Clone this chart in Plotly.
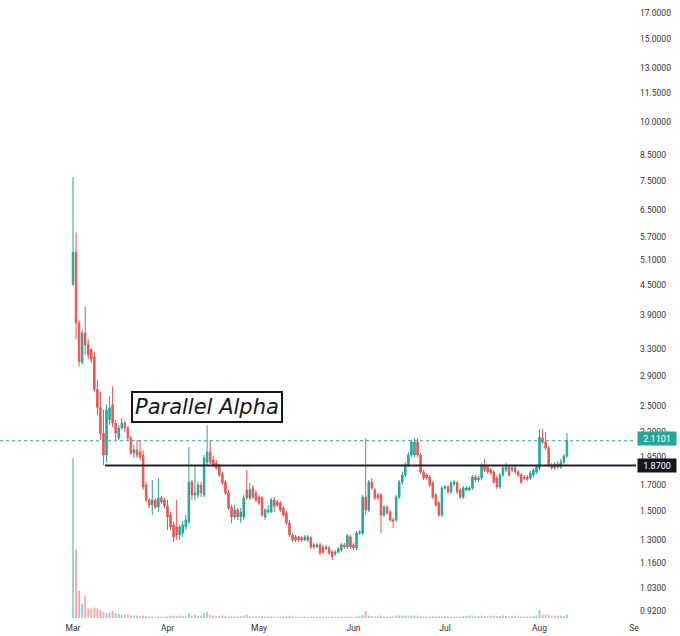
import math
import pandas as pd
import plotly.graph_objects as go

# ---------------- data ----------------
start_date = "2022-03-01"

opens = [4.53, 5.29, 3.75, 3.09, 3.57, 3.37, 3.29, 3.18, 2.71, 2.48, 2.19, 1.968, 2.34, 2.515, 2.30, 2.139,
         2.246, 2.30, 2.246, 2.139, 1.988, 2.017, 1.997, 1.968, 1.701, 1.581, 1.543, 1.581, 1.528, 1.596,
         1.581, 1.535,
         1.469, 1.400, 1.386, 1.333, 1.346, 1.386, 1.420, 1.726, 1.620, 1.620, 1.701, 1.620, 1.902, 1.997,
         1.921, 1.893, 1.866, 1.795, 1.726, 1.636, 1.528, 1.455, 1.506, 1.455, 1.455, 1.660, 1.596, 1.676,
         1.636, 1.604,
         1.596, 1.455, 1.491, 1.491, 1.581, 1.565, 1.558, 1.520, 1.484, 1.413, 1.333, 1.320, 1.320, 1.314,
         1.301, 1.301, 1.314, 1.270, 1.257, 1.270, 1.257, 1.245, 1.251, 1.227, 1.215, 1.227, 1.239, 1.270,
         1.257, 1.320, 1.270,
         1.251, 1.346, 1.346, 1.604, 1.506, 1.726, 1.660, 1.620, 1.620, 1.469, 1.528, 1.491, 1.434, 1.434,
         1.604, 1.726, 1.786, 1.875, 1.968, 1.968, 2.097, 1.968, 1.812, 1.786, 1.769, 1.718, 1.620, 1.558,
         1.469, 1.676,
         1.684, 1.644, 1.709, 1.718, 1.660, 1.604, 1.660, 1.660, 1.676, 1.769, 1.743, 1.760, 1.875, 1.857,
         1.830, 1.812, 1.760, 1.684, 1.786, 1.830, 1.857, 1.830, 1.848, 1.812, 1.786, 1.769, 1.769, 1.760,
         1.786, 1.812, 1.848,
         2.139, 2.097, 2.037, 1.875, 1.848, 1.884, 1.857, 1.902, 1.959]

highs = [7.63, 5.83, 3.81, 3.63, 4.06, 3.46, 3.32, 3.25, 2.84, 2.68, 2.46, 2.52, 2.62, 2.75, 2.336, 2.278,
         2.36, 2.33, 2.267, 2.16, 2.067, 2.118, 2.118, 2.017, 1.726, 1.596, 1.743, 1.596, 1.760, 1.612,
         1.596, 1.581,
         1.491, 1.420, 1.581, 1.400, 1.427, 1.469, 2.047, 1.743, 1.875, 1.726, 1.726, 1.968, 2.278, 2.118,
         1.959, 1.921, 1.884, 1.812, 1.743, 1.660, 1.543, 1.543, 1.520, 1.520, 1.620, 1.830, 1.718, 1.701,
         1.660, 1.620,
         1.612, 1.520, 1.543, 1.596, 1.604, 1.581, 1.573, 1.535, 1.498, 1.434, 1.346, 1.333, 1.327, 1.327,
         1.333, 1.333, 1.327, 1.282, 1.282, 1.282, 1.270, 1.270, 1.264, 1.239, 1.239, 1.257, 1.282, 1.282,
         1.340, 1.333, 1.282,
         1.359, 1.366, 1.620, 2.139, 1.743, 1.760, 1.676, 1.636, 1.636, 1.543, 1.543, 1.506, 1.448, 1.620,
         1.743, 1.812, 1.902, 1.997, 2.118, 2.139, 2.139, 1.988, 1.830, 1.803, 1.786, 1.735, 1.636, 1.573,
         1.693, 1.701,
         1.701, 1.735, 1.743, 1.735, 1.676, 1.693, 1.693, 1.693, 1.786, 1.786, 1.777, 1.893, 1.930, 1.875,
         1.848, 1.830, 1.777, 1.803, 1.866, 1.893, 1.875, 1.866, 1.866, 1.830, 1.803, 1.786, 1.786, 1.821,
         1.848, 1.875, 2.234,
         2.234, 2.202, 2.057, 1.893, 1.902, 1.912, 1.930, 1.978, 2.191]

lows = [4.49, 3.46, 3.03, 3.06, 3.20, 3.14, 3.08, 2.68, 2.39, 2.12, 1.875, 1.90, 2.28, 2.256, 2.118, 2.118,
        2.224, 2.202, 2.108, 1.968, 1.940, 1.940, 1.921, 1.660, 1.565, 1.520, 1.469, 1.513, 1.491, 1.550,
        1.520, 1.366,
        1.366, 1.288, 1.301, 1.301, 1.320, 1.366, 1.407, 1.581, 1.581, 1.596, 1.604, 1.604, 1.875, 1.884,
        1.857, 1.830, 1.769, 1.701, 1.620, 1.506, 1.413, 1.441, 1.434, 1.413, 1.434, 1.581, 1.581, 1.588,
        1.565, 1.543,
        1.455, 1.434, 1.477, 1.484, 1.491, 1.528, 1.491, 1.455, 1.400, 1.320, 1.288, 1.288, 1.288, 1.288,
        1.295, 1.288, 1.245, 1.245, 1.251, 1.209, 1.215, 1.239, 1.209, 1.180, 1.203, 1.221, 1.227, 1.245,
        1.245, 1.245, 1.239,
        1.239, 1.333, 1.333, 1.469, 1.491, 1.660, 1.581, 1.581, 1.346, 1.455, 1.469, 1.420, 1.379, 1.420,
        1.588, 1.709, 1.769, 1.857, 1.949, 1.949, 1.949, 1.795, 1.743, 1.743, 1.684, 1.588, 1.528, 1.455,
        1.455, 1.660,
        1.628, 1.628, 1.693, 1.628, 1.588, 1.588, 1.652, 1.652, 1.660, 1.726, 1.726, 1.743, 1.812, 1.795,
        1.786, 1.709, 1.668, 1.668, 1.769, 1.812, 1.769, 1.812, 1.795, 1.769, 1.709, 1.743, 1.735, 1.743,
        1.769, 1.795, 1.830,
        2.077, 2.017, 1.857, 1.830, 1.830, 1.839, 1.839, 1.884, 1.940]

closes = [5.29, 3.75, 3.11, 3.57, 3.37, 3.21, 3.14, 2.71, 2.48, 2.19, 1.968, 2.455, 2.48, 2.30, 2.191, 2.246,
          2.30, 2.246, 2.139, 1.988, 2.017, 1.968, 1.949, 1.684, 1.581, 1.543, 1.581, 1.528, 1.596, 1.565,
          1.535, 1.455,
          1.386, 1.320, 1.333, 1.386, 1.400, 1.434, 1.726, 1.620, 1.636, 1.701, 1.636, 1.940, 1.997, 1.902,
          1.875, 1.848, 1.786, 1.718, 1.636, 1.520, 1.455, 1.506, 1.455, 1.491, 1.596, 1.596, 1.660, 1.604,
          1.581, 1.558,
          1.469, 1.506, 1.506, 1.581, 1.535, 1.543, 1.506, 1.469, 1.413, 1.333, 1.301, 1.301, 1.301, 1.301,
          1.320, 1.320, 1.257, 1.257, 1.270, 1.221, 1.227, 1.257, 1.221, 1.198, 1.227, 1.245, 1.270, 1.257,
          1.327, 1.257, 1.251,
          1.346, 1.353, 1.604, 1.506, 1.726, 1.676, 1.596, 1.596, 1.469, 1.528, 1.484, 1.434, 1.427, 1.604,
          1.726, 1.786, 1.875, 1.968, 2.097, 2.097, 1.968, 1.812, 1.760, 1.760, 1.701, 1.604, 1.543, 1.469,
          1.676, 1.684,
          1.644, 1.718, 1.726, 1.644, 1.604, 1.676, 1.676, 1.676, 1.769, 1.743, 1.760, 1.875, 1.830, 1.812,
          1.803, 1.726, 1.684, 1.786, 1.848, 1.857, 1.786, 1.848, 1.812, 1.786, 1.726, 1.760, 1.752, 1.803,
          1.830, 1.857, 2.149,
          2.097, 2.037, 1.875, 1.848, 1.884, 1.857, 1.902, 1.959, 2.1101]

volumes = [100, 43, 17, 9, 14, 6, 6, 6.5, 6, 5, 4, 3, 3.5, 4.5, 3, 2.5, 2, 2, 2, 1.5, 1.5, 1.5, 1.2, 1.5,
           1.2, 1, 1, 0.8, 1, 0.8, 0.8, 1,
           1.2, 1.5, 1.2, 1.5, 1.2, 1, 3, 1.5, 2, 1.5, 1.5, 3, 4, 2, 1.5, 1.2, 1.2, 1.5, 1.2, 1, 1.2, 1, 1,
           1, 1.5, 2, 1.2, 1, 1, 1,
           1.2, 1, 1, 1, 0.8, 0.8, 1, 1, 1.2, 1.2, 1, 0.8, 0.8, 0.8, 0.8, 0.8, 1, 0.8, 0.8, 1, 0.8, 0.8,
           0.8, 1, 0.8, 0.8, 0.8, 0.8, 1, 0.8, 0.8,
           1, 1.2, 2, 4.5, 1.5, 1.2, 1, 1, 1.5, 1, 1, 1, 1, 1.5, 1.5, 1.5, 1.5, 1.2, 1.5, 1.5, 1.5, 1.2, 1,
           1, 1, 1, 1, 1, 1, 1.2,
           1, 1, 1, 1, 1, 1.2, 1.2, 1.5, 1.5, 1.2, 1.2, 1.5, 1.2, 1.2, 1.2, 1.5, 1.2, 1.2, 1.5, 1.2, 1, 1.2,
           1.5, 1, 1, 1, 1, 1, 1.2, 1.5, 5,
           2.2, 2.2, 2, 1.5, 1.2, 1.5, 1.5, 1.2, 2]

price_ticks = [17, 15, 13, 11.5, 10, 8.5, 7.5, 6.5, 5.7, 5.1, 4.5, 3.9, 3.3, 2.9, 2.5, 2.2, 1.95,
               1.7, 1.5, 1.3, 1.16, 1.03, 0.92]
price_tick_labels = ["17.0000", "15.0000", "13.0000", "11.5000", "10.0000", "8.5000", "7.5000",
                     "6.5000", "5.7000", "5.1000", "4.5000", "3.9000", "3.3000", "2.9000", "2.5000",
                     "2.2000", "1.9500", "1.7000", "1.5000", "1.3000", "1.1600", "1.0300", "0.9200"]
month_ticks = ["2022-03-01", "2022-04-01", "2022-05-01", "2022-06-01", "2022-07-01", "2022-08-01",
               "2022-09-01"]
month_labels = ["Mar", "Apr", "May", "Jun", "Jul", "Aug", "Se"]

level_price = 1.87
level_start = "2022-03-11 12:00"
last_price = closes[-1]
label_text = "Parallel Alpha"

# ---------------- figure ----------------
UP = "#26a69a"
DOWN = "#ef5350"
UP_VOL = "rgba(38,166,154,0.5)"
DOWN_VOL = "rgba(239,83,80,0.5)"

dates = pd.date_range(start_date, periods=len(closes), freq="D")
x_range = ["2022-02-05 01:30", "2022-09-01 15:30"]

vol_colors = [UP_VOL if c >= o else DOWN_VOL for o, c in zip(opens, closes)]

fig = go.Figure()

fig.add_trace(go.Bar(
    x=dates, y=volumes, marker=dict(color=vol_colors, line=dict(width=0)),
    width=0.6 * 86400000, yaxis="y2", hoverinfo="skip", showlegend=False,
))

fig.add_trace(go.Scatter(
    x=x_range, y=[last_price, last_price], mode="lines",
    line=dict(color=UP, width=1, dash="dot"), hoverinfo="skip", showlegend=False,
))

fig.add_trace(go.Scatter(
    x=[level_start, x_range[1]], y=[level_price, level_price], mode="lines",
    line=dict(color="#1e222d", width=2), hoverinfo="skip", showlegend=False,
))

fig.add_trace(go.Candlestick(
    x=dates, open=opens, high=highs, low=lows, close=closes,
    increasing=dict(line=dict(color=UP, width=1), fillcolor=UP),
    decreasing=dict(line=dict(color=DOWN, width=1), fillcolor=DOWN),
    whiskerwidth=0, showlegend=False,
))

axis_font = dict(family="Roboto, Arial, sans-serif", size=8.5, color="#333333")

fig.update_layout(
    width=680, height=636,
    margin=dict(l=0, r=44, t=0, b=18, autoexpand=False),
    paper_bgcolor="white", plot_bgcolor="white",
    showlegend=False,
    xaxis=dict(
        type="date", range=x_range, tickvals=month_ticks, ticktext=month_labels,
        showgrid=False, zeroline=False, showline=False, ticks="",
        tickfont=axis_font, rangeslider=dict(visible=False), ticklabelstandoff=3,
    ),
    yaxis=dict(
        type="log", side="right",
        range=[math.log10(0.889), math.log10(18.11)],
        tickvals=price_ticks, ticktext=price_tick_labels,
        showgrid=False, zeroline=False, showline=False, ticks="",
        tickfont=axis_font, ticklabelstandoff=3,
    ),
    yaxis2=dict(
        overlaying="y", range=[0, 386], visible=False, showgrid=False,
    ),
    annotations=[
        dict(
            text=label_text, x="2022-04-13 22:00", xref="x", y=0.3415, yref="paper",
            showarrow=False, font=dict(family="DejaVu Sans", size=21, color="#131722", style="italic"),
            bgcolor="white", bordercolor="#131722", borderwidth=2, borderpad=2,
        ),
        dict(
            text=f"{last_price:.4f}", x=1, xref="paper", xanchor="left", xshift=1,
            y=math.log10(last_price), yref="y", yshift=2, showarrow=False,
            width=36, height=11, align="center",
            font=dict(family="Roboto, Arial, sans-serif", size=9, color="white"),
            bgcolor=UP, borderpad=1,
        ),
        dict(
            text=f"{level_price:.4f}", x=1, xref="paper", xanchor="left", xshift=1,
            y=math.log10(level_price), yref="y", showarrow=False,
            width=36, height=11, align="center",
            font=dict(family="Roboto, Arial, sans-serif", size=9, color="white"),
            bgcolor="#131722", borderpad=1,
        ),
    ],
)

fig.write_html(
    "out.html",
    config={"displayModeBar": False},
    post_script="document.body.style.margin='0';document.body.style.overflow='hidden';",
)
